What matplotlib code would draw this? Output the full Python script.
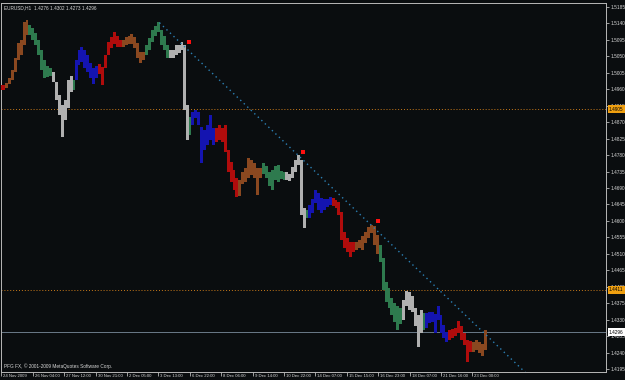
import numpy as np
import matplotlib
matplotlib.use('Agg')
import matplotlib.pyplot as plt

# --------------------------------------------------
# EURUSD H1 window, one entry per trading day
# --------------------------------------------------
day_names = ['24 Nov', '25 Nov', '26 Nov', '27 Nov', '29 Nov', '30 Nov', '1 Dec', '2 Dec',
             '3 Dec', '4 Dec', '6 Dec', '7 Dec', '8 Dec', '9 Dec', '10 Dec', '11 Dec',
             '13 Dec', '14 Dec', '15 Dec', '16 Dec', '17 Dec', '18 Dec', '20 Dec',
             '21 Dec', '22 Dec', '23 Dec']
day_weekday = ['Tue', 'Wed', 'Thu', 'Fri', 'Sun', 'Mon', 'Tue', 'Wed', 'Thu', 'Fri', 'Sun',
               'Mon', 'Tue', 'Wed', 'Thu', 'Fri', 'Sun', 'Mon', 'Tue', 'Wed', 'Thu', 'Fri',
               'Sun', 'Mon', 'Tue', 'Wed']
day_bars = [4, 24, 24, 21, 2, 24, 24, 24, 24, 21, 2, 24, 24, 24, 24, 21, 2,
            24, 24, 24, 24, 21, 2, 24, 24, 15]

# highs / lows in 3-hour blocks
day_highs = [
    [1.4972],
    [1.4977, 1.4991, 1.5013, 1.5046, 1.5087, 1.5095, 1.5144, 1.5149],
    [1.5136, 1.5128, 1.5114, 1.5095, 1.5067, 1.5040, 1.5024, 1.5018],
    [1.5007, 1.4980, 1.4944, 1.4917, 1.4931, 1.4985, 1.4996],
    [1.4985],
    [1.5040, 1.5067, 1.5076, 1.5067, 1.5054, 1.5032, 1.5018, 1.5024],
    [1.5029, 1.5021, 1.5054, 1.5089, 1.5103, 1.5117, 1.5106, 1.5095],
    [1.5095, 1.5103, 1.5106, 1.5111, 1.5103, 1.5087, 1.5062, 1.5062],
    [1.5081, 1.5100, 1.5122, 1.5133, 1.5144, 1.5122, 1.5106, 1.5081],
    [1.5067, 1.5067, 1.5081, 1.5081, 1.5089, 1.5081, 1.4917],
    [1.4884],
    [1.4898, 1.4903, 1.4898, 1.4857, 1.4849, 1.4862, 1.4890, 1.4854],
    [1.4854, 1.4862, 1.4854, 1.4862, 1.4794, 1.4761, 1.4739, 1.4717],
    [1.4712, 1.4734, 1.4745, 1.4772, 1.4767, 1.4758, 1.4745, 1.4745],
    [1.4758, 1.4750, 1.4734, 1.4739, 1.4750, 1.4753, 1.4736, 1.4734],
    [1.4734, 1.4728, 1.4747, 1.4767, 1.4780, 1.4767, 1.4635],
    [1.4630],
    [1.4644, 1.4660, 1.4685, 1.4676, 1.4663, 1.4660, 1.4660, 1.4665],
    [1.4663, 1.4657, 1.4652, 1.4624, 1.4569, 1.4553, 1.4542, 1.4542],
    [1.4542, 1.4548, 1.4559, 1.4569, 1.4583, 1.4589, 1.4586, 1.4561],
    [1.4534, 1.4499, 1.4433, 1.4417, 1.4389, 1.4376, 1.4367, 1.4362],
    [1.4384, 1.4408, 1.4406, 1.4395, 1.4362, 1.4343, 1.4356],
    [1.4348],
    [1.4348, 1.4351, 1.4351, 1.4345, 1.4367, 1.4343, 1.4316, 1.4296],
    [1.4302, 1.4305, 1.4307, 1.4326, 1.4313, 1.4294, 1.4274, 1.4272],
    [1.4269, 1.4274, 1.4269, 1.4263, 1.4302],
]
day_lows = [
    [1.4958],
    [1.4963, 1.4974, 1.4985, 1.5007, 1.5040, 1.5054, 1.5081, 1.5108],
    [1.5108, 1.5095, 1.5081, 1.5054, 1.5013, 1.4991, 1.4994, 1.4996],
    [1.4980, 1.4931, 1.4890, 1.4829, 1.4876, 1.4909, 1.4952],
    [1.4958],
    [1.4985, 1.5026, 1.5035, 1.5018, 1.5007, 1.4991, 1.4974, 1.4991],
    [1.5002, 1.4972, 1.5018, 1.5054, 1.5073, 1.5084, 1.5076, 1.5076],
    [1.5076, 1.5081, 1.5084, 1.5084, 1.5073, 1.5046, 1.5032, 1.5040],
    [1.5054, 1.5067, 1.5089, 1.5106, 1.5117, 1.5081, 1.5067, 1.5046],
    [1.5046, 1.5046, 1.5054, 1.5059, 1.5067, 1.4903, 1.4821],
    [1.4835],
    [1.4862, 1.4881, 1.4862, 1.4758, 1.4794, 1.4808, 1.4821, 1.4808],
    [1.4816, 1.4821, 1.4816, 1.4788, 1.4734, 1.4706, 1.4685, 1.4665],
    [1.4668, 1.4701, 1.4706, 1.4717, 1.4726, 1.4717, 1.4671, 1.4717],
    [1.4728, 1.4717, 1.4695, 1.4685, 1.4712, 1.4706, 1.4715, 1.4712],
    [1.4712, 1.4709, 1.4717, 1.4734, 1.4753, 1.4616, 1.4580],
    [1.4608],
    [1.4608, 1.4622, 1.4649, 1.4630, 1.4622, 1.4630, 1.4638, 1.4644],
    [1.4641, 1.4635, 1.4616, 1.4548, 1.4526, 1.4515, 1.4501, 1.4515],
    [1.4520, 1.4526, 1.4520, 1.4539, 1.4553, 1.4567, 1.4534, 1.4509],
    [1.4488, 1.4411, 1.4378, 1.4362, 1.4343, 1.4324, 1.4302, 1.4318],
    [1.4329, 1.4367, 1.4356, 1.4351, 1.4313, 1.4255, 1.4294],
    [1.4302],
    [1.4307, 1.4321, 1.4324, 1.4294, 1.4329, 1.4294, 1.4280, 1.4269],
    [1.4274, 1.4280, 1.4285, 1.4294, 1.4274, 1.4261, 1.4214, 1.4242],
    [1.4242, 1.4247, 1.4239, 1.4231, 1.4247],
]

# fractal marks, trend line, levels
fractal_bars = [191, 307, 384]
fractal_prices = [1.5089, 1.4788, 1.4600]
trend_bars = [161, 540]
trend_prices = [1.5142, 1.4170]
level_prices = [1.4905, 1.4411]
bid_price = 1.4296

y_tick_labels = ['1.4195', '1.4240', '1.4285', '1.4330', '1.4375', '1.4420', '1.4465',
                 '1.4510', '1.4555', '1.4600', '1.4645', '1.4690', '1.4735', '1.4780',
                 '1.4825', '1.4870', '1.4915', '1.4960', '1.5005', '1.5050', '1.5095',
                 '1.5140', '1.5185']
x_tick_bars = [0, 32, 64, 96, 128, 160, 192, 224, 256, 288, 320, 352, 384, 416, 448, 480]
x_tick_labels = ['24 Nov 2009', '26 Nov 04:00', '27 Nov 12:00', '30 Nov 21:00', '2 Dec 05:00',
                 '3 Dec 13:00', '6 Dec 22:00', '8 Dec 06:00', '9 Dec 14:00', '10 Dec 22:00',
                 '14 Dec 07:00', '15 Dec 15:00', '16 Dec 23:00', '18 Dec 07:00',
                 '21 Dec 16:00', '23 Dec 00:00']

weekday_colors = {'Mon': '#1414b0', 'Tue': '#b00c0c', 'Wed': '#8a4820',
                  'Thu': '#2e7a4e', 'Fri': '#b0b0b0', 'Sun': '#2e7a4e'}

BG = '#0a0d0f'
FG = '#d8d8d8'
FRAME = '#b8b8b8'
FS = 3.4
FS_X = 3.1
plt.rcParams['font.family'] = ['Liberation Sans', 'DejaVu Sans']


def main():
    fig = plt.figure(figsize=(6.25, 3.8), dpi=100, facecolor=BG)
    ax = fig.add_axes([1 / 625, 8 / 380, 605 / 625, 369 / 380], facecolor=BG)

    # --------------------------------------------------
    # price bars, coloured by weekday
    # --------------------------------------------------
    start = 0
    for nb, wd, hi, lo in zip(day_bars, day_weekday, day_highs, day_lows):
        hi = np.array(hi)
        lo = np.array(lo)
        w = nb / len(hi)
        left = start - 0.5 + w * np.arange(len(hi))
        ax.bar(left, hi - lo, bottom=lo, width=w, align='edge',
               color=weekday_colors[wd], linewidth=0, zorder=3)
        start += nb

    # --------------------------------------------------
    # levels, trend line, fractals
    # --------------------------------------------------
    for p in level_prices:
        ax.axhline(p, color='#c97a1a', lw=0.7, ls=(0, (1, 2)), zorder=2)
    ax.axhline(bid_price, color='#6a7a88', lw=0.7, zorder=2)
    ax.plot(trend_bars, trend_prices, color='#2c80b4', lw=1.0, ls=(0, (1, 2.5)), zorder=4)
    ax.plot(fractal_bars, fractal_prices, 's', color='#ff1010', ms=2.2, mew=0, zorder=5)

    ax.set_xlim(-0.5, 616.2)
    ax.set_ylim(1.41867, 1.51959)

    # --------------------------------------------------
    # axes / labels
    # --------------------------------------------------
    for s in ax.spines.values():
        s.set_color(FRAME)
        s.set_linewidth(0.7)
    ax.yaxis.tick_right()
    ax.set_yticks([float(t) for t in y_tick_labels])
    ax.set_yticklabels(y_tick_labels)
    ax.tick_params(axis='y', length=2, width=0.6, color=FRAME, labelcolor=FG,
                   labelsize=FS, pad=1)
    ax.set_xticks(x_tick_bars)
    ax.set_xticklabels([])
    ax.tick_params(axis='x', length=3, width=0.6, color=FRAME)
    for b, lbl in zip(x_tick_bars, x_tick_labels):
        ax.annotate(lbl, xy=(b, 0), xycoords=('data', 'axes fraction'),
                    xytext=(2, -2), textcoords='offset pixels', ha='left', va='top',
                    fontsize=FS_X, color=FG, annotation_clip=False)

    for p in level_prices:
        ax.annotate(f'{p:.4f}', xy=(1, p), xycoords=('axes fraction', 'data'),
                    xytext=(3, 0), textcoords='offset pixels', ha='left', va='center',
                    fontsize=FS, color='#000000', zorder=6, annotation_clip=False,
                    bbox=dict(boxstyle='square,pad=0.3', fc='#f0a010', ec='none'))
    ax.annotate(f'{bid_price:.4f}', xy=(1, bid_price), xycoords=('axes fraction', 'data'),
                xytext=(3, 0), textcoords='offset pixels', ha='left', va='center',
                fontsize=FS, color='#000000', zorder=6, annotation_clip=False,
                bbox=dict(boxstyle='square,pad=0.3', fc='#ffffff', ec='none'))

    ax.annotate('EURUSD,H1  1.4276 1.4302 1.4273 1.4296', xy=(0, 1),
                xycoords='axes fraction', xytext=(3, -2), textcoords='offset pixels',
                ha='left', va='top', fontsize=FS, color=FG)
    ax.annotate('PFG FX, \u00a9 2001-2009 MetaQuotes Software Corp.', xy=(0, 0),
                xycoords='axes fraction', xytext=(3, 3), textcoords='offset pixels',
                ha='left', va='bottom', fontsize=FS, color=FG)

    fig.savefig('out.png', dpi=100, facecolor=BG)


if __name__ == '__main__':
    main()
